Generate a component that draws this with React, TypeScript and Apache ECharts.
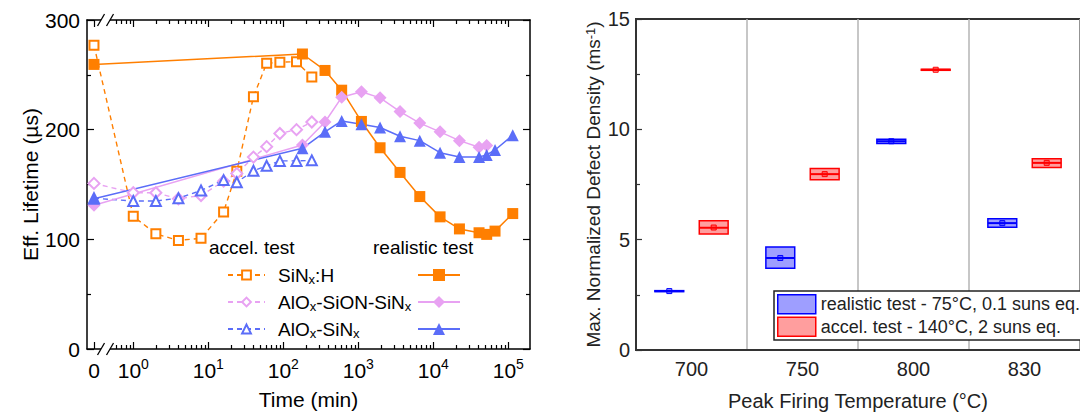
import React, { useEffect, useRef } from 'react';
import * as echarts from 'echarts';

// ---------- Left chart data (time in minutes, lifetime in µs) ----------
const ACCEL_TIMES = [0, 1, 2, 4, 8, 16, 24, 40, 60, 90, 150, 240];
const ACCEL_SINX = [277, 121, 105, 99, 101, 125, 162, 230, 260.5, 261.5, 262, 248];
const ACCEL_SION = [151, 142.5, 142.5, 137, 140, 153, 160, 175, 184.5, 196.5, 200, 207];
const ACCEL_ALOX = [137.5, 135, 135, 137.5, 144.5, 154, 152, 162.5, 167, 171.5, 171.5, 172];

const REAL_TIMES = [0, 180, 360, 600, 1100, 1950, 3600, 6600, 12300, 22300, 40700, 51500, 66500, 114500];
const REAL_SINX = [259.5, 269, 254, 236, 207.5, 183.5, 161, 139, 120.5, 109.5, 106, 104.5, 107.5, 123.5];
const REAL_SION = [131, 186, 207, 229.5, 234.5, 229, 216.5, 206, 198, 190, 184, 185.5];
const REAL_ALOX = [137, 183, 198, 208, 205, 202, 194, 190, 179, 175, 175, 177, 181.5, 195];

// ---------- Right chart data ----------
const TEMPS = ['700', '750', '800', '830'];
// [q1, median, q3, mean]
const REAL_BOX = [
  [2.65, 2.67, 2.69, 2.67],
  [3.71, 4.17, 4.67, 4.17],
  [9.36, 9.46, 9.55, 9.46],
  [5.56, 5.75, 5.95, 5.75],
];
const ACCEL_BOX = [
  [5.26, 5.54, 5.86, 5.55],
  [7.72, 7.97, 8.22, 7.97],
  [12.68, 12.7, 12.72, 12.7],
  [8.27, 8.48, 8.67, 8.48],
];

const REAL_NAME = 'realistic test - 75°C, 0.1 suns eq.';
const ACCEL_NAME = 'accel. test - 140°C, 2 suns eq.';

// ---------- Broken log axis helpers ----------
const ZERO_POS = -0.524;
const X_MIN = -0.617;
const X_MAX = 5.289;
const BREAK_POS = -0.37;
const xpos = (t: number) => (t === 0 ? ZERO_POS : Math.log10(t));
const MAJOR_X = [ZERO_POS, 0, 1, 2, 3, 4, 5];
const MINOR_X: number[] = [];
for (let n = -1; n <= 5; n++) {
  for (let k = 2; k <= 9; k++) {
    const v = n + Math.log10(k);
    if (v > -0.25 && v < X_MAX) MINOR_X.push(v);
  }
}

const ORANGE = '#ff7f00';
const PINK = '#e8a2f2';
const BLUE = '#5b6df8';

const FONT = 'Liberation Sans, Arial, Helvetica, sans-serif';

const L = { left: 87, top: 20, width: 443, height: 329 };
const R = { left: 636, top: 19, width: 456, height: 334 };

const LEGEND_LABELS: Record<string, string> = {
  'SiNx:H accel': 'SiN{sub|x}:H',
  'AlOx-SiON-SiNx accel': 'AlO{sub|x}-SiON-SiN{sub|x}',
  'AlOx-SiNx accel': 'AlO{sub|x}-SiN{sub|x}',
};

const pair = (times: number[], vals: number[]) => vals.map((v, i) => [xpos(times[i]), v]);

function boxRenderer(side: number, stroke: string, fill: string) {
  return (params: any, api: any) => {
    const idx = api.value(0);
    const band = api.size([1, 0])[0];
    const med = api.coord([idx, api.value(2)]);
    const cx = med[0] + side * band * 0.2;
    const w = band * 0.26;
    const y1 = api.coord([idx, api.value(1)])[1];
    const y3 = api.coord([idx, api.value(3)])[1];
    const ym = api.coord([idx, api.value(4)])[1];
    return {
      type: 'group',
      children: [
        {
          type: 'rect',
          shape: { x: cx - w / 2, y: y3, width: w, height: Math.max(y1 - y3, 1) },
          style: { fill, stroke, lineWidth: 1.5 },
        },
        {
          type: 'line',
          shape: { x1: cx - w / 2, y1: med[1], x2: cx + w / 2, y2: med[1] },
          style: { stroke, lineWidth: 2 },
        },
        {
          type: 'rect',
          shape: { x: cx - 2.5, y: ym - 2.5, width: 5, height: 5 },
          style: { fill, stroke, lineWidth: 1 },
        },
      ],
    };
  };
}

export default function App() {
  const ref = useRef<HTMLDivElement>(null);
  useEffect(() => {
    if (!ref.current) return;
    const chart = echarts.init(ref.current, undefined, { renderer: 'svg' });
    const px = (p: number) => L.left + ((p - X_MIN) / (X_MAX - X_MIN)) * L.width;
    const bx = px(BREAK_POS);
    const breakMarks = (y: number) => [
      { type: 'rect', shape: { x: bx - 4.5, y: y - 2.5, width: 9, height: 5 }, style: { fill: '#fff' }, z: 100 },
      { type: 'line', shape: { x1: bx - 8, y1: y + 6, x2: bx - 1, y2: y - 6 }, style: { stroke: '#000', lineWidth: 1.3 }, z: 101 },
      { type: 'line', shape: { x1: bx + 1, y1: y + 6, x2: bx + 8, y2: y - 6 }, style: { stroke: '#000', lineWidth: 1.3 }, z: 101 },
    ];
    const axisLineBlack = { show: true, onZero: false, lineStyle: { color: '#000', width: 1.5 } };
    const tickStyle = { color: '#000', width: 1.2 };
    const xBase = { type: 'value', gridIndex: 0, min: X_MIN, max: X_MAX, splitLine: { show: false } };

    const option: any = {
      animation: false,
      textStyle: { fontFamily: FONT },
      grid: [
        { left: L.left, top: L.top, width: L.width, height: L.height, show: false },
        { left: R.left, top: R.top, width: R.width, height: R.height, show: true, borderColor: '#333', borderWidth: 2 },
      ],
      xAxis: [
        {
          ...xBase,
          position: 'bottom',
          axisLine: axisLineBlack,
          axisTick: { show: true, inside: true, length: 7, customValues: MAJOR_X, lineStyle: tickStyle },
          axisLabel: {
            show: true,
            customValues: MAJOR_X,
            margin: 8,
            formatter: (v: number) =>
              Math.abs(v - ZERO_POS) < 1e-6 ? '{b|0}' : `{b|10}{sup|${Math.round(v)}}`,
            rich: {
              b: { fontSize: 21, lineHeight: 26, color: '#000', fontFamily: FONT },
              sup: { fontSize: 14, lineHeight: 12, verticalAlign: 'top', color: '#000', fontFamily: FONT },
            },
          },
          name: 'Time (min)',
          nameLocation: 'middle',
          nameGap: 40,
          nameTextStyle: { fontSize: 21, color: '#000', fontFamily: FONT },
        },
        {
          ...xBase,
          position: 'bottom',
          axisLine: { show: false, onZero: false },
          axisTick: { show: true, inside: true, length: 4, customValues: MINOR_X, lineStyle: tickStyle },
          axisLabel: { show: false },
        },
        {
          ...xBase,
          position: 'top',
          axisLine: axisLineBlack,
          axisTick: { show: true, inside: true, length: 7, customValues: MAJOR_X, lineStyle: tickStyle },
          axisLabel: { show: false },
        },
        {
          ...xBase,
          position: 'top',
          axisLine: { show: false, onZero: false },
          axisTick: { show: true, inside: true, length: 4, customValues: MINOR_X, lineStyle: tickStyle },
          axisLabel: { show: false },
        },
        {
          type: 'category',
          gridIndex: 1,
          data: TEMPS,
          position: 'bottom',
          axisLine: { show: true, onZero: false, lineStyle: { color: '#333', width: 2 } },
          axisTick: { show: false },
          axisLabel: { fontSize: 20, color: '#222', margin: 9, fontFamily: FONT },
          splitLine: { show: true, interval: 0, lineStyle: { color: '#b4b4b4', width: 1.5 } },
          name: 'Peak Firing Temperature (°C)',
          nameLocation: 'middle',
          nameGap: 41,
          nameTextStyle: { fontSize: 20, color: '#222', fontFamily: FONT },
        },
      ],
      yAxis: [
        {
          type: 'value',
          gridIndex: 0,
          min: 0,
          max: 300,
          interval: 100,
          position: 'left',
          axisLine: axisLineBlack,
          axisTick: { show: true, inside: true, length: 7, lineStyle: tickStyle },
          minorTick: { show: true, splitNumber: 2, length: 4, lineStyle: tickStyle },
          axisLabel: { fontSize: 21, color: '#000', margin: 7, fontFamily: FONT },
          splitLine: { show: false },
          name: 'Eff. Lifetime (µs)',
          nameLocation: 'middle',
          nameGap: 46,
          nameTextStyle: { fontSize: 21, color: '#000', fontFamily: FONT },
        },
        {
          type: 'value',
          gridIndex: 0,
          min: 0,
          max: 300,
          interval: 100,
          position: 'right',
          axisLine: axisLineBlack,
          axisTick: { show: true, inside: true, length: 7, lineStyle: tickStyle },
          minorTick: { show: true, splitNumber: 2, length: 4, lineStyle: tickStyle },
          axisLabel: { show: false },
          splitLine: { show: false },
        },
        {
          type: 'value',
          gridIndex: 1,
          min: 0,
          max: 15,
          interval: 5,
          position: 'left',
          axisLine: { show: true, onZero: false, lineStyle: { color: '#333', width: 2 } },
          axisTick: { show: true, inside: true, length: 6, lineStyle: { color: '#333', width: 1.2 } },
          minorTick: { show: true, splitNumber: 2, length: 4, lineStyle: { color: '#333', width: 1.2 } },
          axisLabel: { fontSize: 20, color: '#222', margin: 6, fontFamily: FONT },
          splitLine: { show: false },
          name: 'Max. Normalized Defect Density (ms{sup|-1})',
          nameLocation: 'middle',
          nameGap: 33,
          nameTextStyle: {
            fontSize: 19,
            color: '#222',
            fontFamily: FONT,
            rich: { sup: { fontSize: 13, lineHeight: 10, verticalAlign: 'top', color: '#222', fontFamily: FONT } },
          },
        },
      ],
      legend: [
        {
          data: ['SiNx:H accel', 'AlOx-SiON-SiNx accel', 'AlOx-SiNx accel'],
          left: 222,
          top: 259,
          orient: 'vertical',
          itemWidth: 37,
          itemHeight: 11,
          itemGap: 5,
          selectedMode: false,
          formatter: (name: string) => LEGEND_LABELS[name],
          textStyle: {
            fontSize: 19,
            lineHeight: 22,
            color: '#000',
            fontFamily: FONT,
            padding: [0, 0, 0, 8],
            rich: { sub: { fontSize: 13, lineHeight: 10, verticalAlign: 'bottom', color: '#000', fontFamily: FONT } },
          },
        },
        {
          data: ['SiNx:H realistic', 'AlOx-SiON-SiNx realistic', 'AlOx-SiNx realistic'],
          left: 412,
          top: 259,
          orient: 'vertical',
          itemWidth: 42,
          itemHeight: 15,
          itemGap: 5,
          selectedMode: false,
          formatter: () => ' ',
          textStyle: { fontSize: 19, lineHeight: 22, fontFamily: FONT },
        },
        {
          data: [
            { name: REAL_NAME, icon: 'rect', itemStyle: { color: 'rgba(0,0,255,0.38)', borderColor: '#0000ff', borderWidth: 1.5 } },
            { name: ACCEL_NAME, icon: 'rect', itemStyle: { color: 'rgba(255,0,0,0.38)', borderColor: '#ff0000', borderWidth: 1.5 } },
          ],
          left: 774,
          top: 291,
          orient: 'vertical',
          itemWidth: 38,
          itemHeight: 19,
          itemGap: 2,
          padding: [3, 16, 3, 3],
          backgroundColor: '#fff',
          borderColor: '#222',
          borderWidth: 1.5,
          borderRadius: 0,
          selectedMode: false,
          z: 10,
          textStyle: { fontSize: 18, color: '#222', fontFamily: FONT },
        },
      ],
      graphic: [
        { type: 'text', left: 209, top: 238, style: { text: 'accel. test', fontSize: 19, fill: '#000', fontFamily: FONT } },
        { type: 'text', left: 373, top: 238, style: { text: 'realistic test', fontSize: 19, fill: '#000', fontFamily: FONT } },
        ...breakMarks(L.top),
        ...breakMarks(L.top + L.height),
      ],
      series: [
        {
          name: 'SiNx:H accel',
          type: 'line',
          data: pair(ACCEL_TIMES, ACCEL_SINX),
          symbol: 'emptyRect',
          symbolSize: 9,
          lineStyle: { color: ORANGE, width: 1.4, type: [5, 4] },
          itemStyle: { color: ORANGE, borderWidth: 1.5 },
        },
        {
          name: 'AlOx-SiON-SiNx accel',
          type: 'line',
          data: pair(ACCEL_TIMES, ACCEL_SION),
          symbol: 'emptyDiamond',
          symbolSize: 11,
          lineStyle: { color: PINK, width: 1.4, type: [5, 4] },
          itemStyle: { color: PINK, borderWidth: 1.5 },
        },
        {
          name: 'AlOx-SiNx accel',
          type: 'line',
          data: pair(ACCEL_TIMES, ACCEL_ALOX),
          symbol: 'emptyTriangle',
          symbolSize: 10,
          lineStyle: { color: BLUE, width: 1.4, type: [5, 4] },
          itemStyle: { color: BLUE, borderWidth: 1.5 },
        },
        {
          name: 'SiNx:H realistic',
          type: 'line',
          data: pair(REAL_TIMES, REAL_SINX),
          symbol: 'rect',
          symbolSize: 11,
          lineStyle: { color: ORANGE, width: 1.5 },
          itemStyle: { color: ORANGE },
        },
        {
          name: 'AlOx-SiON-SiNx realistic',
          type: 'line',
          data: pair(REAL_TIMES, REAL_SION),
          symbol: 'diamond',
          symbolSize: 13,
          lineStyle: { color: PINK, width: 1.5 },
          itemStyle: { color: PINK },
        },
        {
          name: 'AlOx-SiNx realistic',
          type: 'line',
          data: pair(REAL_TIMES, REAL_ALOX),
          symbol: 'triangle',
          symbolSize: 12,
          lineStyle: { color: BLUE, width: 1.5 },
          itemStyle: { color: BLUE },
        },
        {
          name: REAL_NAME,
          type: 'custom',
          xAxisIndex: 4,
          yAxisIndex: 2,
          data: REAL_BOX.map((b, i) => [i, ...b]),
          encode: { x: 0, y: [1, 2, 3, 4] },
          itemStyle: { color: 'rgba(0,0,255,0.38)', borderColor: '#0000ff', borderWidth: 1.5 },
          renderItem: boxRenderer(-1, '#0000ff', 'rgba(0,0,255,0.38)'),
        },
        {
          name: ACCEL_NAME,
          type: 'custom',
          xAxisIndex: 4,
          yAxisIndex: 2,
          data: ACCEL_BOX.map((b, i) => [i, ...b]),
          encode: { x: 0, y: [1, 2, 3, 4] },
          itemStyle: { color: 'rgba(255,0,0,0.38)', borderColor: '#ff0000', borderWidth: 1.5 },
          renderItem: boxRenderer(1, '#ff0000', 'rgba(255,0,0,0.38)'),
        },
      ],
    };
    chart.setOption(option);
    return () => chart.dispose();
  }, []);
  return (
    <div
      ref={ref}
      style={{ position: 'fixed', left: 0, top: 0, width: 1080, height: 416, background: '#fff' }}
    />
  );
}
